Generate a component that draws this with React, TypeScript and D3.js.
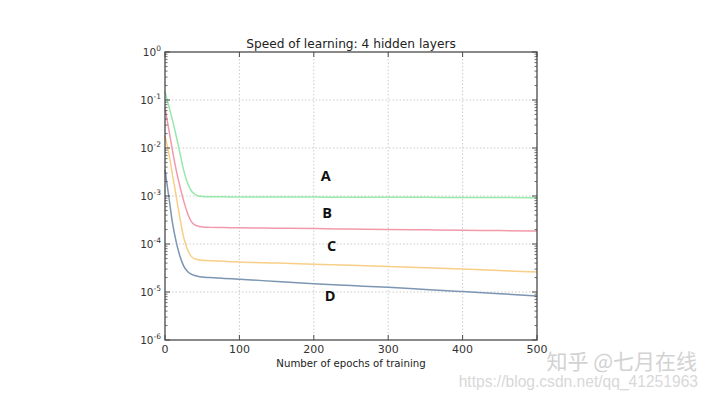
import React from 'react';
import * as d3 from 'd3';

// epochs sampled along the curves
const epochs = [0, 5, 10, 15, 20, 25, 30, 35, 40, 45, 50, 60, 80, 100, 150, 200, 250, 300, 350, 400, 450, 500];

// gradient speed per hidden layer
const layerA = [0.15, 0.076, 0.038, 0.018, 0.0079, 0.0035, 0.0019, 0.0013, 0.0011, 0.001, 0.00098, 0.00096, 0.00096, 0.00095, 0.00095, 0.00095, 0.00094, 0.00094, 0.00094, 0.00093, 0.00093, 0.00092];
const layerB = [0.068, 0.025, 0.0089, 0.0035, 0.0016, 0.0008, 0.00045, 0.0003, 0.00025, 0.000234, 0.000226, 0.000222, 0.00022, 0.000218, 0.000214, 0.00021, 0.000205, 0.0002, 0.000197, 0.000194, 0.00019, 0.000187];
const layerC = [0.018, 0.0079, 0.0028, 0.001, 0.00035, 0.00014, 0.000079, 0.000056, 0.000049, 0.000047, 0.000046, 0.000045, 0.0000435, 0.000042, 0.00004, 0.000038, 0.000036, 0.000034, 0.000032, 0.00003, 0.000028, 0.000026];
const layerD = [0.0035, 0.001, 0.00028, 0.000112, 0.000056, 0.000035, 0.000027, 0.0000235, 0.000022, 0.000021, 0.0000205, 0.00002, 0.0000192, 0.0000185, 0.0000165, 0.0000148, 0.0000136, 0.0000125, 0.0000113, 0.0000102, 0.0000092, 0.0000083];

const seriesNames = ['A', 'B', 'C', 'D'];
const seriesValues = [layerA, layerB, layerC, layerD];
const seriesColors = ['#96e8ab', '#f29aaa', '#f8cf86', '#7b95b2'];
// where the letters sit (epoch, value)
const labelPos: [number, number][] = [[216, 0.0021], [218, 0.00035], [224, 0.00007], [222, 0.0000066]];

const xTicks = [0, 100, 200, 300, 400, 500];
const yExps = [0, -1, -2, -3, -4, -5, -6];

const W = 709;
const H = 399;

export default function App() {
  const x = d3.scaleLinear().domain([0, 500]).range([165, 537]);
  const y = d3.scaleLog().domain([1e-6, 1]).range([340, 52]);

  const line = d3.line<[number, number]>()
    .x(d => x(d[0]))
    .y(d => y(d[1]))
    .curve(d3.curveMonotoneX);

  const minor: number[] = [];
  for (let e = -6; e < 0; e++) {
    for (let m = 2; m <= 9; m++) minor.push(m * Math.pow(10, e));
  }

  const gridColor = '#cccccc';
  const axisColor = '#4a4a4a';
  const tickFont = 'DejaVu Sans, sans-serif';

  return (
    <svg width={W} height={H} style={{ position: 'absolute', left: 0, top: 0, background: '#fff' }}>
      <rect x={0} y={0} width={W} height={H} fill="#fff" />

      {/* grid */}
      {xTicks.slice(1, -1).map(t => (
        <line key={'gx' + t} x1={x(t)} x2={x(t)} y1={52} y2={340} stroke={gridColor} strokeWidth={1} strokeDasharray="1.5,2" />
      ))}
      {yExps.slice(1, -1).map(e => (
        <line key={'gy' + e} x1={165} x2={537} y1={y(Math.pow(10, e))} y2={y(Math.pow(10, e))} stroke={gridColor} strokeWidth={1} strokeDasharray="1.5,2" />
      ))}

      {/* curves */}
      {seriesValues.map((vals, i) => (
        <path
          key={seriesNames[i]}
          d={line(epochs.map((ep, j) => [ep, vals[j]] as [number, number])) || ''}
          fill="none"
          stroke={seriesColors[i]}
          strokeWidth={1.5}
        />
      ))}

      {/* frame */}
      <rect x={165} y={52} width={372} height={288} fill="none" stroke={axisColor} strokeWidth={1.3} />

      {/* x ticks */}
      {xTicks.map(t => (
        <g key={'xt' + t}>
          <line x1={x(t)} x2={x(t)} y1={340} y2={335} stroke={axisColor} />
          <line x1={x(t)} x2={x(t)} y1={52} y2={57} stroke={axisColor} />
          <text x={x(t)} y={353} textAnchor="middle" fontFamily={tickFont} fontSize={11} fill="#333">{t}</text>
        </g>
      ))}

      {/* y ticks */}
      {yExps.map(e => (
        <g key={'yt' + e}>
          <line x1={165} x2={170} y1={y(Math.pow(10, e))} y2={y(Math.pow(10, e))} stroke={axisColor} />
          <line x1={537} x2={532} y1={y(Math.pow(10, e))} y2={y(Math.pow(10, e))} stroke={axisColor} />
          <text x={161} y={y(Math.pow(10, e)) + 4} textAnchor="end" fontFamily={tickFont} fontSize={10.5} fill="#333">
            10<tspan dy={-5} fontSize={7.5}>{e === 0 ? '0' : e}</tspan>
          </text>
        </g>
      ))}
      {minor.map((v, i) => (
        <g key={'mn' + i}>
          <line x1={165} x2={167.5} y1={y(v)} y2={y(v)} stroke={axisColor} strokeWidth={0.8} />
          <line x1={537} x2={534.5} y1={y(v)} y2={y(v)} stroke={axisColor} strokeWidth={0.8} />
        </g>
      ))}

      {/* titles */}
      <text x={351} y={48} textAnchor="middle" fontFamily={tickFont} fontSize={12.2} fill="#222">Speed of learning: 4 hidden layers</text>
      <text x={351} y={367} textAnchor="middle" fontFamily={tickFont} fontSize={10.2} fill="#222">Number of epochs of training</text>

      {/* letters */}
      {labelPos.map((p, i) => (
        <text key={'lb' + i} x={x(p[0])} y={y(p[1])} textAnchor="middle" fontFamily="Open Sans, sans-serif" fontWeight="bold" fontSize={14.5} fill="#111">{seriesNames[i]}</text>
      ))}

      {/* watermark */}
      <text x={697} y={369} textAnchor="end" fontFamily="Noto Sans CJK SC, sans-serif" fontSize={21} fill="#d2d2d2">知乎 @七月在线</text>
      <text x={698} y={387} textAnchor="end" fontFamily="Liberation Sans, Arial, sans-serif" fontSize={15.6} fill="#d8d8d8">https://blog.csdn.net/qq_41251963</text>
    </svg>
  );
}
